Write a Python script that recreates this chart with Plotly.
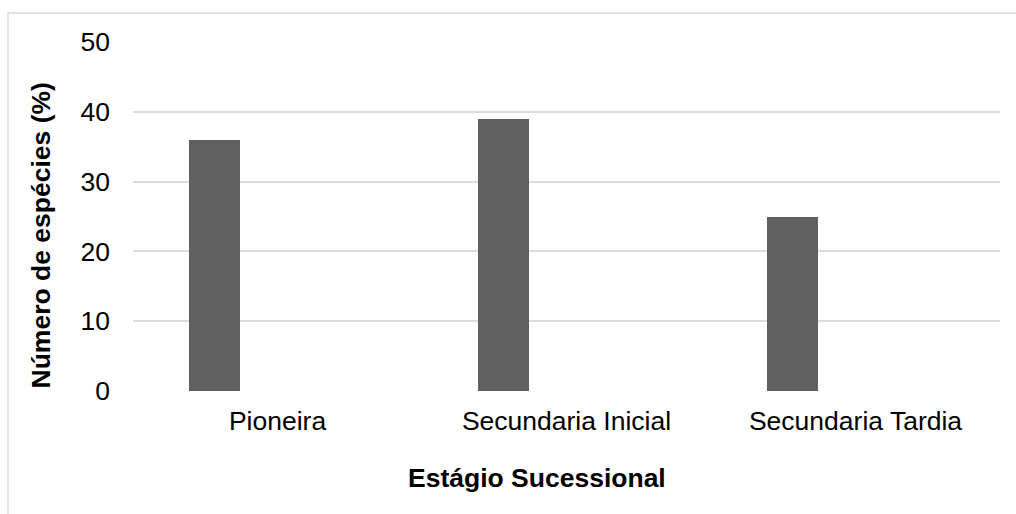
import plotly.graph_objects as go

# Successional stage categories and share of species (%)
estagios = ["Pioneira", "Secundaria Inicial", "Secundaria Tardia"]
especies_pct = [36, 39, 25]
y_ticks = [0, 10, 20, 30, 40, 50]

FONT = "Liberation Sans, Arial, sans-serif"
GRID = "#dcdcdc"
FS = 26.5

fig = go.Figure()
fig.add_trace(go.Bar(
    x=estagios,
    y=especies_pct,
    width=0.174,
    offset=-0.305,
    marker=dict(color="#606060", line=dict(width=0)),
    showlegend=False,
))

fig.update_layout(
    width=1016,
    height=514,
    margin=dict(l=133, r=16, t=42, b=123),
    paper_bgcolor="white",
    plot_bgcolor="white",
    font=dict(family=FONT, size=FS, color="#000000"),
    bargap=0,
    xaxis=dict(
        type="category",
        showgrid=False,
        showline=False,
        zeroline=False,
        ticks="",
        ticklabelstandoff=11,
        tickfont=dict(size=FS, color="#000000"),
    ),
    yaxis=dict(
        range=[0, 50],
        tickvals=y_ticks,
        showgrid=True,
        gridcolor=GRID,
        gridwidth=1.7,
        zeroline=False,
        showline=False,
        ticks="",
        ticklabelstandoff=22,
        tickfont=dict(size=FS, color="#000000"),
    ),
    annotations=[
        dict(
            text="<b>Número de espécies (%)</b>",
            xref="paper", yref="paper",
            x=-0.105, y=0.4456,
            xanchor="center", yanchor="middle",
            textangle=-90,
            showarrow=False,
            font=dict(family=FONT, size=FS, color="#000000"),
        ),
        dict(
            text="<b>Estágio Sucessional</b>",
            xref="paper", yref="paper",
            x=0.466, y=-0.249,
            xanchor="center", yanchor="middle",
            showarrow=False,
            font=dict(family=FONT, size=FS, color="#000000"),
        ),
    ],
    shapes=[
        # chart frame, only its top and left edges fall inside the canvas
        dict(
            type="rect",
            xref="paper", yref="paper",
            x0=-0.1442, x1=1.2,
            y0=-0.6, y1=1.0831,
            line=dict(color=GRID, width=1.5),
            fillcolor="rgba(0,0,0,0)",
            layer="below",
        ),
    ],
)

fig.write_html("out.html")
